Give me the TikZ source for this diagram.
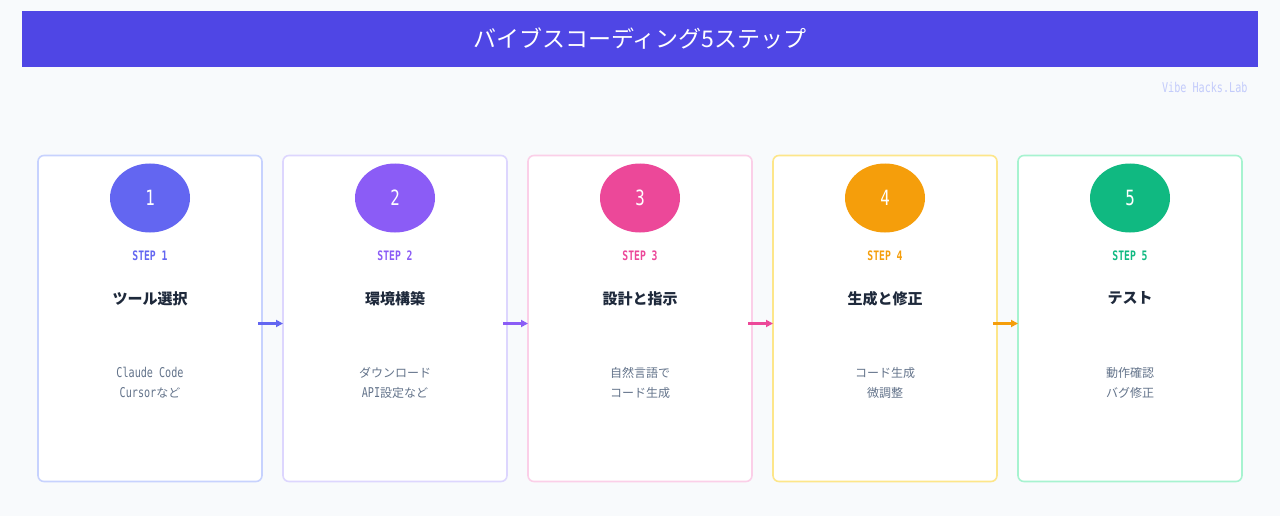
\documentclass[tikz,border=0pt]{standalone}
\usepackage{fontspec}
\setmainfont{Noto Sans CJK JP}
\newfontfamily\monofont[FakeStretch=0.75]{DejaVu Sans Mono}
\usetikzlibrary{arrows.meta,positioning,shapes.geometric}

\definecolor{bgc}{HTML}{F8FAFC}
\definecolor{bannerc}{HTML}{4F46E5}
\definecolor{c1}{HTML}{6366F1}
\definecolor{c2}{HTML}{8B5CF6}
\definecolor{c3}{HTML}{EC4899}
\definecolor{c4}{HTML}{F59E0B}
\definecolor{c5}{HTML}{10B981}
\definecolor{b1}{HTML}{C7D2FE}
\definecolor{b2}{HTML}{DDD6FE}
\definecolor{b3}{HTML}{FBCFE8}
\definecolor{b4}{HTML}{FDE68A}
\definecolor{b5}{HTML}{A7F3D0}
\definecolor{darktext}{HTML}{1E293B}
\definecolor{graytext}{HTML}{64748B}
\definecolor{brandc}{HTML}{C3CBFB}

\begin{document}
\begin{tikzpicture}[
  x=1pt, y=-1pt,
  banner/.style={fill=bannerc, minimum width=1236pt, minimum height=56pt,
    text=white, font=\fontsize{23}{26}\selectfont, outer sep=0pt},
  card/.style={fill=white, line width=1.6pt, rounded corners=6pt,
    minimum width=224pt, minimum height=326pt, outer sep=0pt},
  num/.style={ellipse, minimum width=80pt, minimum height=69pt, inner sep=0pt,
    outer sep=0pt, text=white, font=\monofont\fontsize{21}{24}\selectfont},
  steplabel/.style={font=\monofont\bfseries\fontsize{13}{15}\selectfont},
  steptitle/.style={text=darktext, font=\bfseries\fontsize{15}{18}\selectfont},
  desc/.style={text=graytext, align=center, font=\fontsize{12}{20}\selectfont},
  flow/.style={-{Triangle[length=7pt,width=7pt]}, line width=2.5pt},
  brand/.style={text=brandc, font=\monofont\fontsize{13.5}{16}\selectfont}
  ]

\useasboundingbox[fill=bgc] (0,0) rectangle (1280,516);

\node[banner] (banner) at (640,39) {バイブスコーディング5ステップ};
\node[brand, anchor=east] (brand) at (1251,87) {Vibe Hacks.Lab};

% cards
\node[card, draw=b1] (card1) at (150,318.5) {};
\node[card, draw=b2, right=21pt of card1] (card2) {};
\node[card, draw=b3, right=21pt of card2] (card3) {};
\node[card, draw=b4, right=21pt of card3] (card4) {};
\node[card, draw=b5, right=21pt of card4] (card5) {};

% step 1
\node[num, fill=c1, below=8pt of card1.north] (num1) {1};
\node[steplabel, text=c1, below=23pt of num1.south, anchor=center] (label1) {STEP 1};
\node[steptitle, below=43pt of label1.center, anchor=center] (title1) {ツール選択};
\node[desc, below=84pt of title1.center, anchor=center] (desc1)
  {{\monofont\fontsize{13.5}{20}\selectfont Claude Code}\\{\monofont\fontsize{13.5}{20}\selectfont Cursor}など};

% step 2
\node[num, fill=c2, below=8pt of card2.north] (num2) {2};
\node[steplabel, text=c2, below=23pt of num2.south, anchor=center] (label2) {STEP 2};
\node[steptitle, below=43pt of label2.center, anchor=center] (title2) {環境構築};
\node[desc, below=84pt of title2.center, anchor=center] (desc2)
  {ダウンロード\\{\monofont\fontsize{13.5}{20}\selectfont API}設定など};

% step 3
\node[num, fill=c3, below=8pt of card3.north] (num3) {3};
\node[steplabel, text=c3, below=23pt of num3.south, anchor=center] (label3) {STEP 3};
\node[steptitle, below=43pt of label3.center, anchor=center] (title3) {設計と指示};
\node[desc, below=84pt of title3.center, anchor=center] (desc3) {自然言語で\\コード生成};

% step 4
\node[num, fill=c4, below=8pt of card4.north] (num4) {4};
\node[steplabel, text=c4, below=23pt of num4.south, anchor=center] (label4) {STEP 4};
\node[steptitle, below=43pt of label4.center, anchor=center] (title4) {生成と修正};
\node[desc, below=84pt of title4.center, anchor=center] (desc4) {コード生成\\微調整};

% step 5
\node[num, fill=c5, below=8pt of card5.north] (num5) {5};
\node[steplabel, text=c5, below=23pt of num5.south, anchor=center] (label5) {STEP 5};
\node[steptitle, below=43pt of label5.center, anchor=center] (title5) {テスト};
\node[desc, below=84pt of title5.center, anchor=center] (desc5) {動作確認\\バグ修正};

% arrows
\draw[flow, c1] ([xshift=-4pt,yshift=-5pt]card1.east) -- ([yshift=-5pt]card2.west);
\draw[flow, c2] ([xshift=-4pt,yshift=-5pt]card2.east) -- ([yshift=-5pt]card3.west);
\draw[flow, c3] ([xshift=-4pt,yshift=-5pt]card3.east) -- ([yshift=-5pt]card4.west);
\draw[flow, c4] ([xshift=-4pt,yshift=-5pt]card4.east) -- ([yshift=-5pt]card5.west);

\end{tikzpicture}
\end{document}
